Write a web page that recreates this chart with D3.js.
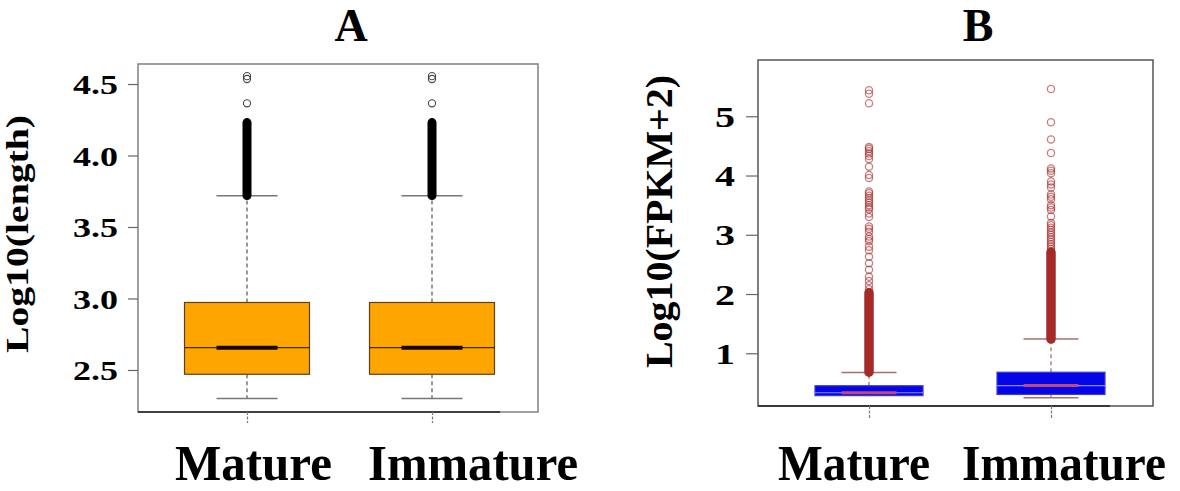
<!DOCTYPE html>
<html><head><meta charset="utf-8">
<script src="https://cdn.jsdelivr.net/npm/d3@7"></script>
<style>
html,body{margin:0;padding:0;background:#fff;}
svg{display:block;}
text{font-family:"Liberation Serif","Times New Roman",serif;font-weight:bold;fill:#000;}
</style></head>
<body>
<svg id="chart" width="1180" height="491"></svg>
<script>
// ---------- DATA ----------
const categories = ["Mature", "Immature"];

// Panel A: Log10(length)
const lengthTicks = [2.5, 3.0, 3.5, 4.0, 4.5];
const lengthWhiskerLow  = [2.30, 2.30];
const lengthQ1          = [2.47, 2.47];
const lengthMedian      = [2.656, 2.656];
const lengthQ3          = [2.972, 2.972];
const lengthWhiskerHigh = [3.718, 3.718];
const lengthOutliers    = [[4.365, 4.535, 4.555], [4.365, 4.535, 4.555]];
const lengthDenseRuns   = [[3.72, 4.23], [3.72, 4.23]];

// Panel B: Log10(FPKM+2)
const fpkmTicks = [1, 2, 3, 4, 5];
const fpkmWhiskerLow  = [0.285, 0.25];
const fpkmQ1          = [0.285, 0.305];
const fpkmMedian      = [0.334, 0.455];
const fpkmQ3          = [0.452, 0.68];
const fpkmWhiskerHigh = [0.675, 1.24];
const fpkmOutliers = [
  [5.44, 5.38, 5.22, 4.48, 4.45, 4.41, 4.37, 4.33, 4.28, 4.15, 4.01, 3.96, 3.73, 3.70, 3.66, 3.62, 3.58, 3.54, 3.50, 3.46, 3.43, 3.36,
   3.30, 3.14, 3.10, 3.05, 2.97, 2.93, 2.89, 2.80, 2.74, 2.63, 2.52, 2.41, 2.29, 2.22, 2.15, 2.08],
  [5.46, 4.90, 4.61, 4.38, 4.12, 4.08, 4.04, 3.90, 3.85, 3.80, 3.68, 3.64, 3.60, 3.50, 3.46, 3.42, 3.31, 3.20, 3.16, 3.12, 3.08,
   3.04, 3.00, 2.96, 2.92, 2.88, 2.84, 2.80, 2.76, 2.72]
];
const fpkmDenseRuns = [[0.68, 2.02], [1.24, 2.70]];

// ---------- LAYOUT ----------
const svg = d3.select("#chart");

function panel(cfg) {
  const g = svg.append("g");
  const y = d3.scaleLinear().domain(cfg.yDomain).range([cfg.bottom, cfg.top]);
  const x = d3.scalePoint().domain(categories).range(cfg.xPoints);

  // frame
  g.append("rect").attr("x", cfg.left).attr("y", cfg.top)
    .attr("width", cfg.right - cfg.left).attr("height", cfg.bottom - cfg.top)
    .attr("fill", "none").attr("stroke", cfg.frameColor).attr("stroke-width", 1.5);
  g.append("line").attr("x1", cfg.left).attr("x2", cfg.axisLineEnd)
    .attr("y1", cfg.bottom).attr("y2", cfg.bottom).attr("stroke", "#222").attr("stroke-width", 1.6);

  // y axis
  const ya = g.append("g").attr("transform", `translate(${cfg.left},0)`)
    .call(d3.axisLeft(y).tickValues(cfg.ticks).tickFormat(cfg.tickFmt).tickSize(cfg.tickLen).tickPadding(cfg.tickPad));
  ya.select(".domain").remove();
  ya.selectAll(".tick line").attr("stroke", "#666").attr("stroke-width", 1.2);
  ya.selectAll(".tick text").attr("font-size", cfg.tickFont).attr("fill", "#000")
    .attr("font-family", "Liberation Serif").attr("font-weight", "bold")
    .attr("textLength", cfg.tickTextLen).attr("lengthAdjust", "spacingAndGlyphs").attr("dy", "0.34em");

  // x axis ticks
  const xa = g.append("g").attr("transform", `translate(0,${cfg.bottom})`)
    .call(d3.axisBottom(x).tickSize(cfg.xTickLen).tickFormat(""));
  xa.select(".domain").remove();
  xa.selectAll(".tick line").attr("stroke", "#777").attr("stroke-width", 1.2).attr("stroke-dasharray", "3,1.5");

  // boxes
  categories.forEach((c, i) => {
    const cx = x(c);
    const s = cfg.stats;
    g.append("line").attr("x1", cx).attr("x2", cx).attr("y1", y(s.q3[i])).attr("y2", y(s.hi[i]))
      .attr("stroke", cfg.whiskerColor).attr("stroke-width", 1.2).attr("stroke-dasharray", "4,3");
    g.append("line").attr("x1", cx).attr("x2", cx).attr("y1", y(s.q1[i])).attr("y2", y(s.lo[i]))
      .attr("stroke", cfg.whiskerColor).attr("stroke-width", 1.2).attr("stroke-dasharray", "4,3");
    [s.hi[i], s.lo[i]].forEach(v => {
      if (cfg.skipLowCap && cfg.skipLowCap[i] && v === s.lo[i]) return;
      g.append("line").attr("x1", cx - cfg.capW / 2).attr("x2", cx + cfg.capW / 2)
        .attr("y1", y(v)).attr("y2", y(v)).attr("stroke", cfg.capColor).attr("stroke-width", 1.5);
    });
    g.append("rect").attr("x", cx - cfg.boxW / 2).attr("y", y(s.q3[i]))
      .attr("width", cfg.boxW).attr("height", y(s.q1[i]) - y(s.q3[i]))
      .attr("fill", cfg.boxFill).attr("stroke", cfg.boxStroke).attr("stroke-width", 1.2);
    g.append("line").attr("x1", cx - cfg.boxW / 2).attr("x2", cx + cfg.boxW / 2)
      .attr("y1", y(s.med[i])).attr("y2", y(s.med[i]))
      .attr("stroke", cfg.medThinColor).attr("stroke-width", 1.2);
    g.append("line").attr("x1", cx - cfg.capW / 2).attr("x2", cx + cfg.capW / 2)
      .attr("y1", y(s.med[i])).attr("y2", y(s.med[i]))
      .attr("stroke", cfg.medColor).attr("stroke-width", cfg.medWidth);
    // dense outlier runs (overlapping circles rendered as a solid column)
    const run = cfg.dense[i];
    g.append("line").attr("x1", cx).attr("x2", cx).attr("y1", y(run[0])).attr("y2", y(run[1]))
      .attr("stroke", cfg.denseColor).attr("stroke-width", cfg.denseW).attr("stroke-linecap", "round");
    g.selectAll(null).data(cfg.outliers[i]).enter().append("circle")
      .attr("cx", cx).attr("cy", d => y(d)).attr("r", cfg.r)
      .attr("fill", "none").attr("stroke", cfg.ptColor).attr("stroke-width", cfg.ptWidth)
      .attr("stroke-opacity", cfg.ptOpacity);
  });

  // x labels
  categories.forEach((c, i) => {
    g.append("text").attr("x", cfg.labelX[i]).attr("y", cfg.labelY)
      .attr("font-size", cfg.labelFont).attr("textLength", cfg.labelLen[i])
      .attr("lengthAdjust", "spacingAndGlyphs").text(c);
  });

  // y title
  g.append("text").attr("transform", `translate(${cfg.yTitleX},${cfg.yTitleY}) rotate(-90)`)
    .attr("text-anchor", "middle").attr("font-size", cfg.yTitleFont)
    .attr("textLength", cfg.yTitleLen).attr("lengthAdjust", "spacingAndGlyphs").text(cfg.yTitle);

  // panel title
  g.append("text").attr("x", cfg.titleX).attr("y", cfg.titleY).attr("text-anchor", "middle")
    .attr("font-size", cfg.titleFont).text(cfg.title);
}

panel({
  left: 138, right: 538, top: 64, bottom: 412, axisLineEnd: 500,
  yDomain: [2.206, 4.64], xPoints: [247, 432],
  frameColor: "#808080",
  ticks: lengthTicks, tickFmt: d3.format(".1f"), tickLen: 10, tickPad: 10, tickFont: 28, tickTextLen: 45,
  xTickLen: 11,
  stats: {lo: lengthWhiskerLow, q1: lengthQ1, med: lengthMedian, q3: lengthQ3, hi: lengthWhiskerHigh},
  boxW: 125, capW: 61, boxFill: "#FFA500", boxStroke: "#5a4020",
  whiskerColor: "#555", capColor: "#777",
  medThinColor: "#3a2a10", medColor: "#1a0400", medWidth: 4,
  dense: lengthDenseRuns, denseColor: "#000", denseW: 9,
  outliers: lengthOutliers, r: 3.6, ptColor: "#333", ptWidth: 1.1, ptOpacity: 0.9,
  labelX: [175, 368], labelY: 480, labelFont: 50, labelLen: [157, 210],
  yTitle: "Log10(length)", yTitleX: 28, yTitleY: 234, yTitleFont: 31, yTitleLen: 238,
  title: "A", titleX: 351, titleY: 41, titleFont: 46
});

panel({
  left: 758, right: 1153, top: 60, bottom: 406, axisLineEnd: 1110,
  yDomain: [0.11, 5.95], xPoints: [869, 1051],
  frameColor: "#555",
  ticks: fpkmTicks, tickFmt: d3.format("d"), tickLen: 12, tickPad: 11, tickFont: 30, tickTextLen: 20,
  xTickLen: 12,
  stats: {lo: fpkmWhiskerLow, q1: fpkmQ1, med: fpkmMedian, q3: fpkmQ3, hi: fpkmWhiskerHigh},
  skipLowCap: [true, false],
  boxW: 108, capW: 55, boxFill: "#0505E8", boxStroke: "#3a3acc",
  whiskerColor: "#a06868", capColor: "#a07070",
  medThinColor: "#8a8aff", medColor: "#c04a78", medWidth: 3,
  dense: fpkmDenseRuns, denseColor: "#a52a2a", denseW: 9.5,
  outliers: fpkmOutliers, r: 3.6, ptColor: "#a52a2a", ptWidth: 1.3, ptOpacity: 0.6,
  labelX: [778, 962], labelY: 480, labelFont: 50, labelLen: [152, 204],
  yTitle: "Log10(FPKM+2)", yTitleX: 672, yTitleY: 221.5, yTitleFont: 38, yTitleLen: 293,
  title: "B", titleX: 978, titleY: 41, titleFont: 46
});
</script>
</body></html>
